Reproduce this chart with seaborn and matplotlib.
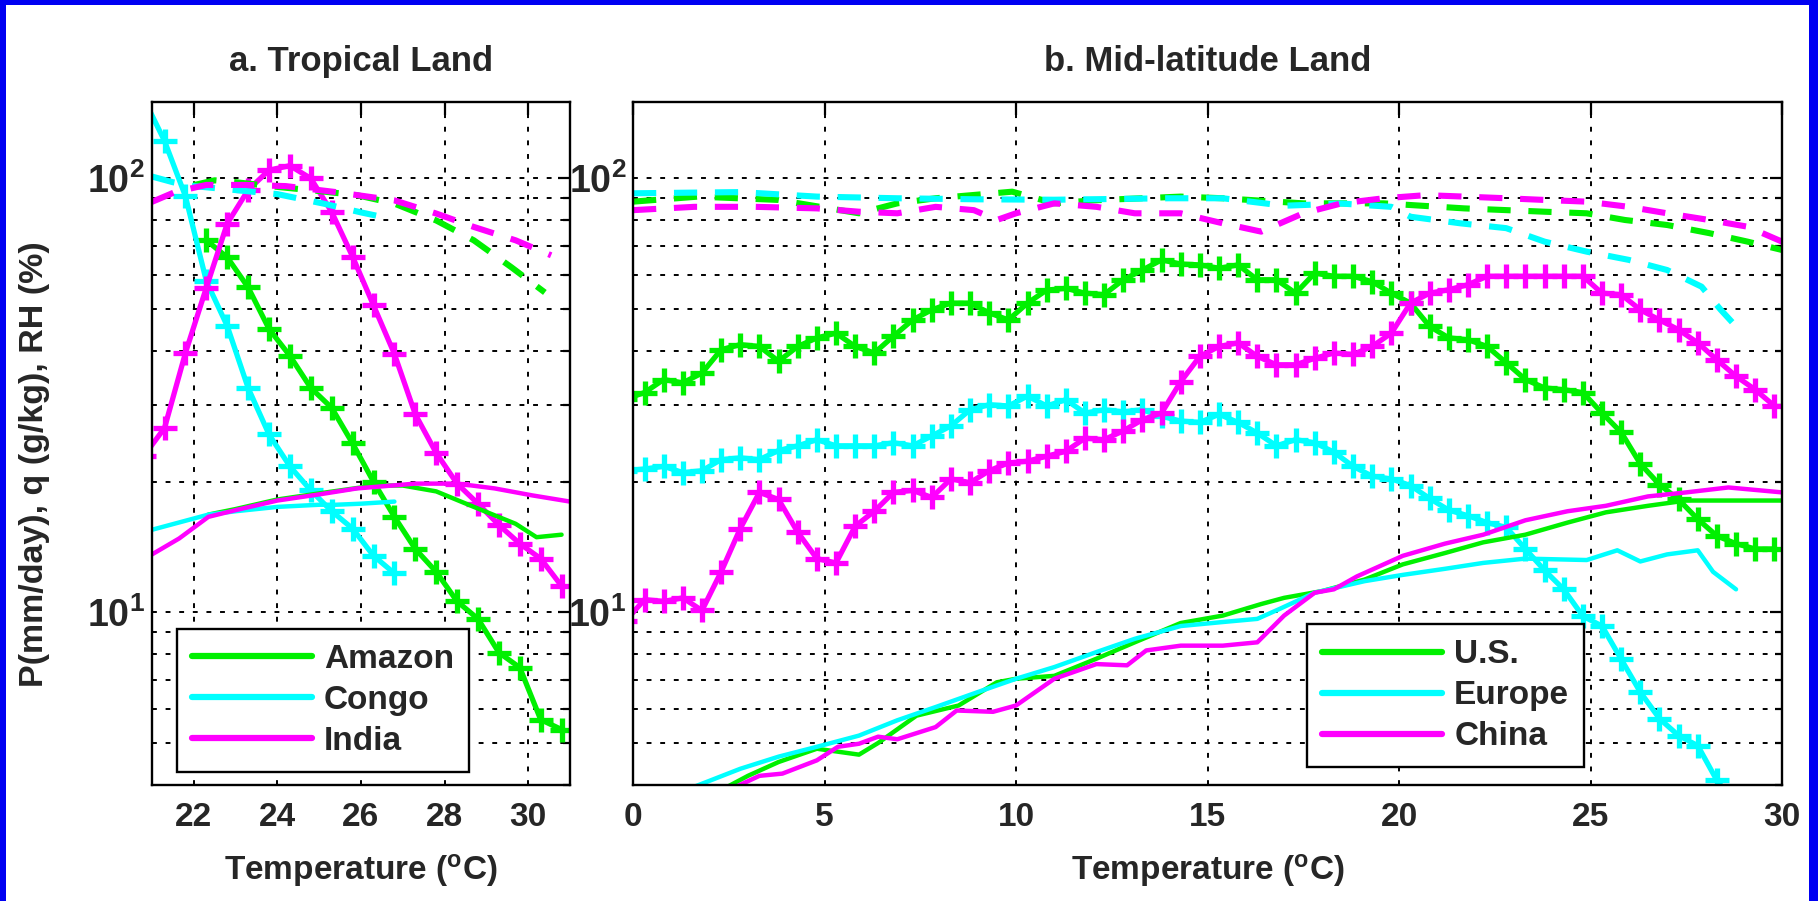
import matplotlib
matplotlib.use("Agg")
import matplotlib.pyplot as plt
import seaborn as sns
from matplotlib.lines import Line2D
from matplotlib.patches import Rectangle
from matplotlib.ticker import LogLocator, NullFormatter

# ============================
# Data: panel a (tropical land)
# ============================
ta_p = [20.8, 21.3, 21.8, 22.3, 22.8, 23.3, 23.8, 24.3, 24.8, 25.3, 25.8,
        26.3, 26.8, 27.3, 27.8, 28.3, 28.8, 29.3, 29.8, 30.3, 30.8]
amazon_p = [72, 65.8, 56.1, 45, 39, 32.9, 29.6, 24.5, 20, 16.6, 14.0, 12.4,
            10.6, 9.66, 8.08, 7.46, 5.66, 5.37]            # from 22.3
congo_p = [153, 122, 91, 58, 45.7, 32.9, 25.7, 21.7, 19.1, 17.1, 15.6, 13.5, 12.3]  # to 26.8
india_p = [22.9, 26.6, 39.6, 56, 78.7, 94, 104.5, 107, 100, 83.7, 66, 51, 39.4,
           28.6, 23.3, 19.8, 17.8, 15.9, 14.4, 13.3, 11.5]

amazon_q_t = [22.35, 23.0, 24.0, 25.0, 26.0, 26.4, 27.0, 27.8, 28.7, 29.7, 30.2, 30.8]
amazon_q = [16.8, 17.3, 18.2, 18.8, 19.4, 19.6, 19.6, 19.0, 17.5, 16.0, 14.9, 15.1]
congo_q_t = [21.0, 22.35, 23.0, 24.0, 25.0, 25.4, 26.0, 26.8]
congo_q = [15.5, 16.8, 17.1, 17.5, 17.7, 17.7, 17.8, 18.0]
india_q_t = [21.0, 21.65, 22.35, 23.0, 24.0, 25.0, 25.9, 27.3, 28.3, 29.2, 30.1, 31.0]
india_q = [13.6, 14.8, 16.6, 17.2, 18.1, 18.7, 19.3, 19.8, 19.8, 19.3, 18.6, 18.0]

amazon_rh_t = [22.0, 22.5, 23.0, 24.0, 25.0, 25.9, 26.8, 27.8, 28.7, 29.6, 30.4]
amazon_rh = [96.5, 99, 98, 95.6, 93.5, 91.5, 87.5, 80, 72, 62.4, 54.6]
congo_rh_t = [21.0, 21.5, 22.0, 23.0, 24.0, 25.1, 26.0, 26.7]
congo_rh = [101, 98, 96, 94, 92, 87.5, 83.5, 80.8]
india_rh_t = [21.0, 21.55, 22.3, 23.25, 24.2, 25.4, 26.8, 27.8, 28.7, 29.7, 30.55]
india_rh = [88.3, 93, 96.6, 96.6, 96, 93, 89, 83, 77.3, 72, 66.5]

# ============================
# Data: panel b (mid-latitude land)
# ============================
tb_p = [-0.2, 0.3, 0.8, 1.3, 1.8, 2.3, 2.8, 3.3, 3.8, 4.3, 4.8,
        5.3, 5.8, 6.3, 6.8, 7.3, 7.8, 8.3, 8.8, 9.3, 9.8,
        10.3, 10.8, 11.3, 11.8, 12.3, 12.8, 13.3, 13.8, 14.3, 14.8,
        15.3, 15.8, 16.3, 16.8, 17.3, 17.8, 18.3, 18.8, 19.3, 19.8,
        20.3, 20.8, 21.3, 21.8, 22.3, 22.8, 23.3, 23.8, 24.3, 24.8,
        25.3, 25.8, 26.3, 26.8, 27.3, 27.8, 28.3, 28.8, 29.3, 29.8]
us_p = [31.0, 32.1, 34.4, 33.8, 35.6, 40.3, 41.4, 41.0, 37.9, 41.0, 42.9,
        44.0, 41.0, 39.6, 43.3, 47.2, 49.8, 51.6, 51.6, 49.0, 47.2,
        51.6, 55.3, 55.8, 54.4, 54.0, 58.4, 61.5, 64.9, 63.5, 63.2,
        62.1, 63.2, 58.4, 58.4, 54.4, 60.5, 59.5, 59.5, 57.8, 54.4,
        51.6, 45.6, 42.9, 42.5, 41.0, 37.6, 34.4, 32.9, 32.6, 32.1,
        28.8, 26.0, 22.0, 19.7, 18.2, 16.4, 15.0, 14.4, 14.0, 14.0]
europe_p = [21.2, 21.4, 21.7, 21.0, 21.2, 22.5, 22.7, 22.5, 23.6, 24.2, 25.0,
            24.2, 24.2, 24.2, 24.6, 24.2, 25.5, 26.9, 29.3, 30.1, 29.9,
            31.5, 29.9, 30.9, 28.8, 29.3, 29.0, 29.3, 28.3, 27.6, 27.4,
            28.6, 27.4, 25.9, 24.2, 25.0, 24.6, 23.4, 21.7, 20.6, 20.3,
            19.6, 18.3, 17.2, 16.7, 16.1, 15.7, 14.0, 12.5, 11.3, 9.8,
            9.3, 7.8, 6.55, 5.69, 5.2, 4.93, 4.1, 3.6]          # to 28.8
china_p = [9.55, 10.7, 10.6, 10.8, 10.1, 12.4, 15.6, 18.9, 18.2, 15.3, 13.3,
           13.0, 15.8, 17.1, 18.9, 19.1, 18.4, 20.3, 19.9, 21.2, 22.1,
           22.3, 22.9, 23.5, 25.2, 25.0, 26.2, 27.8, 28.8, 34.0, 38.9,
           41.0, 41.8, 38.9, 37.2, 37.2, 38.5, 39.6, 39.3, 41.0, 44.0,
           51.6, 54.4, 55.4, 56.9, 59.5, 59.5, 59.5, 59.5, 59.5, 59.5,
           54.4, 54.0, 49.8, 47.2, 44.8, 41.8, 38.2, 35.0, 32.6, 29.9]

us_q_t = [2.0, 3.0, 3.8, 4.8, 5.9, 6.4, 7.4, 8.5, 9.5, 10.0, 11.0, 12.1, 13.1, 14.3, 15.4,
          16.4, 17.0, 18.0, 19.1, 20.1, 21.2, 22.2, 23.3, 24.4, 25.4, 26.5, 27.5, 28.6, 30.0]
us_q = [3.77, 4.2, 4.52, 4.85, 4.7, 5.0, 5.78, 6.1, 6.9, 7.03, 7.14, 7.82, 8.53, 9.45, 9.83,
        10.45, 10.8, 11.2, 11.9, 12.9, 13.7, 14.5, 15.1, 16.1, 17.0, 17.6, 18.1, 18.1, 18.1]
europe_q_t = [1.0, 2.8, 3.8, 4.8, 5.9, 6.9, 7.9, 9.0, 10.0, 11.0, 12.1, 13.1, 14.3, 15.4, 16.3,
              16.9, 17.8, 19.1, 20.1, 21.2, 22.2, 23.3, 24.9, 25.7, 26.3, 27.0, 27.8, 28.2, 28.8]
europe_q = [3.78, 4.36, 4.65, 4.9, 5.2, 5.64, 6.05, 6.55, 7.03, 7.48, 8.1, 8.69, 9.3, 9.5, 9.66,
            10.2, 11.1, 11.8, 12.2, 12.6, 13.0, 13.3, 13.2, 13.9, 13.1, 13.6, 13.9, 12.4, 11.3]
china_q_t = [2.3, 3.3, 3.9, 4.8, 5.35, 5.9, 6.4, 6.9, 7.9, 8.45, 9.4, 10.0, 11.0, 12.1, 12.9,
             13.4, 14.3, 15.4, 16.3, 17.0, 17.8, 18.3, 18.9, 20.1, 21.2, 22.2, 23.3, 24.4,
             25.4, 26.5, 27.5, 28.6, 30.0]
china_q = [3.82, 4.2, 4.25, 4.56, 4.9, 4.98, 5.17, 5.1, 5.44, 5.94, 5.9, 6.1, 7.03, 7.6, 7.55,
           8.17, 8.38, 8.38, 8.53, 9.83, 11.1, 11.3, 12.1, 13.5, 14.4, 15.1, 16.3, 17.1,
           17.6, 18.5, 18.9, 19.4, 18.9]

us_rh_t = [0, 1.7, 3.8, 5.9, 6.9, 7.9, 9.9, 11.0, 12.0, 14.3, 15.4, 17.5, 19.6, 21.7,
           23.8, 24.9, 25.9, 27.0, 28.1, 29.1, 30.0]
us_rh = [88.4, 90.8, 89.2, 83.1, 87.6, 90, 93.2, 87.6, 89, 90.8, 90, 87.6, 87.6, 85.3,
         83.8, 83.1, 80.2, 78.1, 74.8, 71.5, 68.4]
europe_rh_t = [0, 2.8, 4.8, 6.9, 9.0, 11.0, 14.0, 15.4, 17.0, 18.5, 19.8, 20.3, 21.6,
               22.8, 23.8, 24.9, 26.0, 27.0, 27.9, 28.4, 28.8]
europe_rh = [92.4, 93, 90.8, 90, 89.5, 89.3, 90, 90, 86.5, 87.5, 86, 81.6, 78.8,
             76.8, 71.5, 67.8, 64.9, 61.5, 56.3, 49.8, 45.6]
china_rh_t = [0, 1.6, 3.2, 4.8, 5.9, 6.9, 7.9, 8.9, 9.5, 10.0, 11.0, 12.1, 13.1, 14.3,
              15.4, 16.4, 17.5, 18.5, 19.6, 20.7, 21.7, 22.8, 23.8, 24.9, 26.0, 27.0,
              28.1, 29.1, 30.0]
china_rh = [84.5, 86, 86, 85.3, 83.8, 83.1, 86, 84.5, 80.2, 83.1, 87.6, 86, 83.1, 83.1,
            78.8, 75.4, 83.1, 87.6, 90, 91.5, 90.8, 90, 89.2, 88.4, 86, 83.1,
            80.2, 77.4, 71.5]

GREEN, CYAN, MAGENTA = "#00f000", "#00ffff", "#ff00ff"

# ============================
# Style
# ============================
sns.set_style("white")
plt.rcParams["font.family"] = ["Liberation Sans", "DejaVu Sans"]
plt.rcParams["font.weight"] = "bold"
plt.rcParams["mathtext.fontset"] = "custom"
plt.rcParams["mathtext.bf"] = "Liberation Sans:bold"
plt.rcParams["mathtext.rm"] = "Liberation Sans:bold"
FS = 24

fig = plt.figure(figsize=(18.18, 9.01), dpi=100, facecolor="#0000f2")
fig.patches.append(Rectangle((6 / 1818, 0), 1803 / 1818, 1 - 5 / 901,
                             transform=fig.transFigure, facecolor="white",
                             edgecolor="none", zorder=-10))

ax_a = fig.add_axes([0.0836, 0.1287, 0.2299, 0.7581])
ax_b = fig.add_axes([0.3482, 0.1287, 0.632, 0.7581])

p_kw = dict(marker="+", markersize=17, markeredgewidth=3.8, linewidth=3.8,
            estimator=None, sort=False)
q_kw = dict(linewidth=3.2, estimator=None, sort=False)
rh_kw = dict(linewidth=4.4, estimator=None, sort=False)
RH_DASH = (3.8, 2.9)


def draw(ax, x, y, color, kw, dashed=False):
    if "marker" in kw:
        sns.lineplot(x=x, y=y, color=color, markeredgecolor=color, ax=ax, **kw)
    else:
        sns.lineplot(x=x, y=y, color=color, ax=ax, **kw)
    if dashed:
        ax.lines[-1].set_dashes(RH_DASH)


# panel a
draw(ax_a, ta_p[3:], amazon_p, GREEN, p_kw)
draw(ax_a, ta_p[:len(congo_p)], congo_p, CYAN, p_kw)
draw(ax_a, ta_p, india_p, MAGENTA, p_kw)
draw(ax_a, amazon_q_t, amazon_q, GREEN, q_kw)
draw(ax_a, congo_q_t, congo_q, CYAN, q_kw)
draw(ax_a, india_q_t, india_q, MAGENTA, q_kw)
draw(ax_a, amazon_rh_t, amazon_rh, GREEN, rh_kw, dashed=True)
draw(ax_a, congo_rh_t, congo_rh, CYAN, rh_kw, dashed=True)
draw(ax_a, india_rh_t, india_rh, MAGENTA, rh_kw, dashed=True)

# panel b
draw(ax_b, tb_p, us_p, GREEN, p_kw)
draw(ax_b, tb_p[:len(europe_p)], europe_p, CYAN, p_kw)
draw(ax_b, tb_p, china_p, MAGENTA, p_kw)
draw(ax_b, us_q_t, us_q, GREEN, q_kw)
draw(ax_b, europe_q_t, europe_q, CYAN, q_kw)
draw(ax_b, china_q_t, china_q, MAGENTA, q_kw)
draw(ax_b, us_rh_t, us_rh, GREEN, rh_kw, dashed=True)
draw(ax_b, europe_rh_t, europe_rh, CYAN, rh_kw, dashed=True)
draw(ax_b, china_rh_t, china_rh, MAGENTA, rh_kw, dashed=True)


def style(ax, xlim, xticks, title):
    ax.set_yscale("log")
    ax.set_ylim(4, 150)
    ax.set_xlim(*xlim)
    ax.set_xticks(xticks)
    ax.set_xticklabels([str(t) for t in xticks])
    ax.set_yticks([10, 100])
    ax.set_yticklabels([r"$\mathbf{10^{1}}$", r"$\mathbf{10^{2}}$"])
    ax.yaxis.set_minor_locator(LogLocator(base=10, subs=range(2, 10)))
    ax.yaxis.set_minor_formatter(NullFormatter())
    ax.grid(True, which="major", axis="both", color="black",
            linestyle=(0, (2.5, 4.5)), linewidth=1.4)
    ax.grid(True, which="minor", axis="y", color="black",
            linestyle=(0, (2.5, 4.5)), linewidth=1.4)
    ax.tick_params(which="both", direction="in", top=True, right=True,
                   labelsize=FS, width=1.6, color="black")
    ax.tick_params(which="major", length=9)
    ax.tick_params(which="minor", length=5)
    ax.tick_params(axis="x", pad=12)
    ax.tick_params(axis="y", pad=5, labelsize=FS + 3)
    for sp in ax.spines.values():
        sp.set_color("black")
        sp.set_linewidth(1.7)
    ax.set_xlabel(r"Temperature ($\mathbf{^{o}}$C)", fontsize=FS,
                  fontweight="bold", labelpad=14)
    ax.set_ylabel("")
    ax.set_title(title, fontsize=FS + 1, fontweight="bold", pad=22)
    ax.set_facecolor("white")


style(ax_a, (21, 31), [22, 24, 26, 28, 30], "a. Tropical Land")
style(ax_b, (0, 30), [0, 5, 10, 15, 20, 25, 30], "b. Mid-latitude Land")
ax_a.set_ylabel("P(mm/day), q (g/kg), RH (%)", fontsize=FS + 0.5,
                fontweight="bold")
ax_a.yaxis.set_label_coords(-0.245, 0.47)


def add_legend(ax, names, anchor):
    handles = [Line2D([], [], color=c, linewidth=4.5) for c in (GREEN, CYAN, MAGENTA)]
    leg = ax.legend(handles, names, loc="lower left", bbox_to_anchor=anchor,
                    frameon=True, fancybox=False, framealpha=1, edgecolor="black",
                    prop={"size": FS, "weight": "bold"}, handlelength=3.6,
                    handletextpad=0.35, labelspacing=0.3, borderpad=0.45,
                    borderaxespad=0)
    leg.get_frame().set_linewidth(1.7)


add_legend(ax_a, ["Amazon", "Congo", "India"], (0.06, 0.019))
add_legend(ax_b, ["U.S.", "Europe", "China"], (0.587, 0.026))

fig.savefig("out.png", dpi=100, facecolor=fig.get_facecolor())
